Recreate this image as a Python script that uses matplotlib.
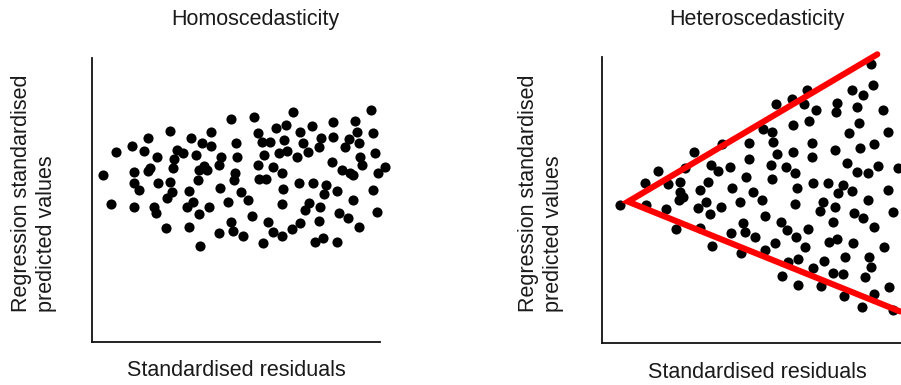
import matplotlib
matplotlib.use("Agg")
import matplotlib.pyplot as plt
import numpy as np

plt.rcParams['font.family'] = ['Liberation Sans', 'DejaVu Sans']

# Homoscedastic panel: (standardised residual, predicted value)
homo_x = [0.33, 0.58, 0.73, 1.20, 1.25, 1.25, 1.27, 1.40, 1.57, 1.67, 1.68, 1.87, 1.93, 1.95, 1.98,
          2.22, 2.25, 2.35, 2.35, 2.40, 2.43, 2.47, 2.55, 2.73, 2.85, 2.90, 2.92, 2.97, 3.03, 3.13,
          3.17, 3.20, 3.21, 3.25, 3.30, 3.37, 3.45, 3.52, 3.57, 3.57, 3.80, 3.80, 3.85, 3.88, 4.08,
          4.17, 4.18, 4.22, 4.25, 4.30, 4.33, 4.37, 4.47, 4.55, 4.70, 4.82, 4.87, 5.00, 5.00, 5.03,
          5.10, 5.15, 5.18, 5.23, 5.30, 5.35, 5.43, 5.45, 5.53, 5.63, 5.70, 5.70, 5.70, 5.75, 5.78,
          5.83, 5.85, 6.00, 6.05, 6.15, 6.22, 6.25, 6.25, 6.35, 6.40, 6.50, 6.53, 6.60, 6.65, 6.70,
          6.83, 6.83, 6.85, 6.87, 6.95, 6.97, 7.03, 7.20, 7.23, 7.23, 7.35, 7.37, 7.43, 7.50, 7.60,
          7.68, 7.75, 7.83, 7.90, 7.95, 8.03, 8.03, 8.05, 8.10, 8.37, 8.43, 8.43, 8.50, 8.57, 8.58,
          8.80, 7.73, 7.83, 1.74]
homo_y = [5.00, 4.13, 5.70, 5.87, 5.08, 4.77, 4.05, 4.55, 5.73, 6.12, 5.13, 4.05, 3.85, 5.53, 4.75,
          3.40, 4.30, 6.33, 4.80, 4.50, 5.20, 5.47, 5.75, 5.67, 4.03, 3.43, 4.53, 6.10, 4.20, 5.60,
          4.85, 5.15, 3.83, 2.88, 5.97, 5.28, 5.15, 4.05, 6.30, 5.88, 3.27, 5.30, 4.60, 5.55, 4.20,
          6.68, 3.60, 3.33, 4.85, 5.07, 5.95, 5.55, 4.48, 3.17, 4.25, 3.77, 6.73, 6.25, 5.30, 4.88,
          6.00, 2.95, 5.60, 4.88, 3.60, 6.00, 5.25, 3.30, 6.40, 5.67, 5.05, 3.17, 4.13, 4.57, 6.05,
          6.50, 5.73, 3.37, 6.87, 5.55, 4.75, 6.30, 3.55, 5.95, 3.95, 5.70, 4.17, 6.47, 4.75, 3.00,
          3.63, 5.85, 4.03, 6.10, 3.10, 4.43, 4.70, 5.40, 6.57, 6.15, 4.52, 3.00, 3.85, 5.15, 5.83,
          3.70, 5.05, 4.25, 6.60, 6.30, 5.95, 3.45, 5.55, 5.30, 6.93, 6.27, 4.55, 5.67, 3.90, 5.05,
          5.25, 6.07, 5.00, 5.22]

# Heteroscedastic panel: (standardised residual, predicted value)
hetero_x = [0.55, 1.28, 1.31, 1.68, 1.93, 1.98, 2.23, 2.33, 2.35, 2.31, 2.43, 2.48, 2.76, 2.93, 2.88,
            2.95, 3.11, 3.18, 3.25, 3.28, 3.31, 3.48, 3.58, 3.61, 3.83, 3.86, 3.91, 4.13, 4.18, 4.23,
            4.28, 4.33, 4.40, 4.41, 4.51, 4.58, 4.78, 4.83, 4.89, 4.88, 5.08, 5.11, 5.05, 5.08, 5.23,
            5.21, 5.18, 5.36, 5.38, 5.51, 5.53, 5.58, 5.68, 5.71, 5.73, 5.78, 5.78, 5.83, 5.80, 5.86,
            5.88, 6.06, 6.08, 6.13, 6.18, 6.21, 6.28, 6.28, 6.33, 6.33, 6.41, 6.53, 6.56, 6.63, 6.66,
            6.76, 6.81, 6.93, 6.98, 6.98, 6.93, 7.01, 7.03, 7.03, 7.08, 7.21, 7.26, 7.28, 7.23, 7.33,
            7.41, 7.48, 7.48, 7.53, 7.56, 7.63, 7.65, 7.71, 7.73, 7.81, 7.80, 7.83, 7.88, 7.98, 7.98,
            8.01, 8.05, 8.05, 8.11, 8.15, 8.15, 8.16, 8.26, 8.43, 8.46, 8.56, 8.58, 8.61, 8.73, 8.71,
            8.88]
hetero_y = [4.15, 4.80, 4.15, 5.17, 4.02, 4.78, 3.42, 4.85, 4.55, 4.30, 4.40, 5.25, 5.73, 4.60, 4.05,
            3.45, 4.25, 4.85, 3.87, 5.35, 2.92, 5.18, 4.08, 5.98, 5.30, 3.30, 4.65, 4.25, 2.70, 3.62,
            3.35, 5.00, 6.00, 5.52, 4.55, 3.18, 4.30, 6.45, 3.82, 2.80, 6.35, 6.05, 5.35, 4.93, 5.68,
            7.18, 3.00, 3.65, 2.00, 5.30, 3.40, 2.45, 7.35, 6.55, 5.75, 5.10, 4.18, 4.65, 3.20, 2.52,
            1.75, 7.20, 2.88, 7.60, 3.42, 6.68, 6.02, 5.58, 4.80, 2.25, 7.00, 3.98, 1.70, 4.25, 2.48,
            4.82, 3.03, 3.65, 5.80, 4.08, 2.10, 6.95, 7.22, 3.12, 4.50, 4.75, 1.42, 2.60, 2.08, 5.40,
            6.32, 7.60, 4.58, 3.00, 3.92, 7.10, 5.15, 6.63, 5.85, 3.75, 1.08, 7.45, 1.97, 5.10, 4.30,
            2.60, 2.30, 8.40, 7.77, 5.98, 3.48, 1.48, 5.33, 7.02, 2.90, 4.60, 6.34, 1.67, 3.93, 1.00,
            5.25]

# Spread envelope: upper edge end, apex, lower edge end
envelope_x = [8.25, 0.78, 8.93]
envelope_y = [8.68, 4.25, 0.95]

titles = ["Homoscedasticity", "Heteroscedasticity"]
x_label = "Standardised residuals"
y_label = "Regression standardised\npredicted values"

W, H = 901, 385
fig = plt.figure(figsize=(W / 100, H / 100), dpi=100)
fs = 15.5
tc = '#1a1a1a'


def px_axes(x0, y0, x1, y1):
    return fig.add_axes([x0 / W, 1 - y1 / H, (x1 - x0) / W, (y1 - y0) / H])


def style(ax):
    for s in ('top', 'right'):
        ax.spines[s].set_visible(False)
    for s in ('left', 'bottom'):
        ax.spines[s].set_linewidth(1.3)
        ax.spines[s].set_color('#111111')
    ax.set_xticks([])
    ax.set_yticks([])


ax1 = px_axes(92, 58, 380, 342)
style(ax1)
ax1.plot(homo_x, homo_y, 'o', color='black', markersize=7.3, markeredgewidth=0, clip_on=False)
ax1.set_xlim(0, 8.65)
ax1.set_ylim(0, 8.5)

ax2 = px_axes(602, 57, 901, 343)
style(ax2)
ax2.plot(hetero_x, hetero_y, 'o', color='black', markersize=7.3, markeredgewidth=0, clip_on=False)
ax2.plot(envelope_x, envelope_y, '-', color='#ff0000', linewidth=4.4,
         solid_joinstyle='miter', solid_capstyle='round', clip_on=False, zorder=5)
ax2.set_xlim(0, 8.96)
ax2.set_ylim(0, 8.6)

# Titles and axis labels
for cx, t in ((255, titles[0]), (757, titles[1])):
    fig.text(cx / W, 1 - 19 / H, t, ha='center', va='center', fontsize=fs, color=tc)
for cx, cy in ((236, 371), (757, 372)):
    fig.text(cx / W, 1 - cy / H, x_label, ha='center', va='center', fontsize=fs, color=tc)
for cx in (34, 541):
    fig.text(cx / W, 1 - 312 / H, y_label, ha='center', va='bottom', rotation=90,
             multialignment='left', fontsize=fs, color=tc, linespacing=1.2)

fig.savefig("out.png", dpi=100)
